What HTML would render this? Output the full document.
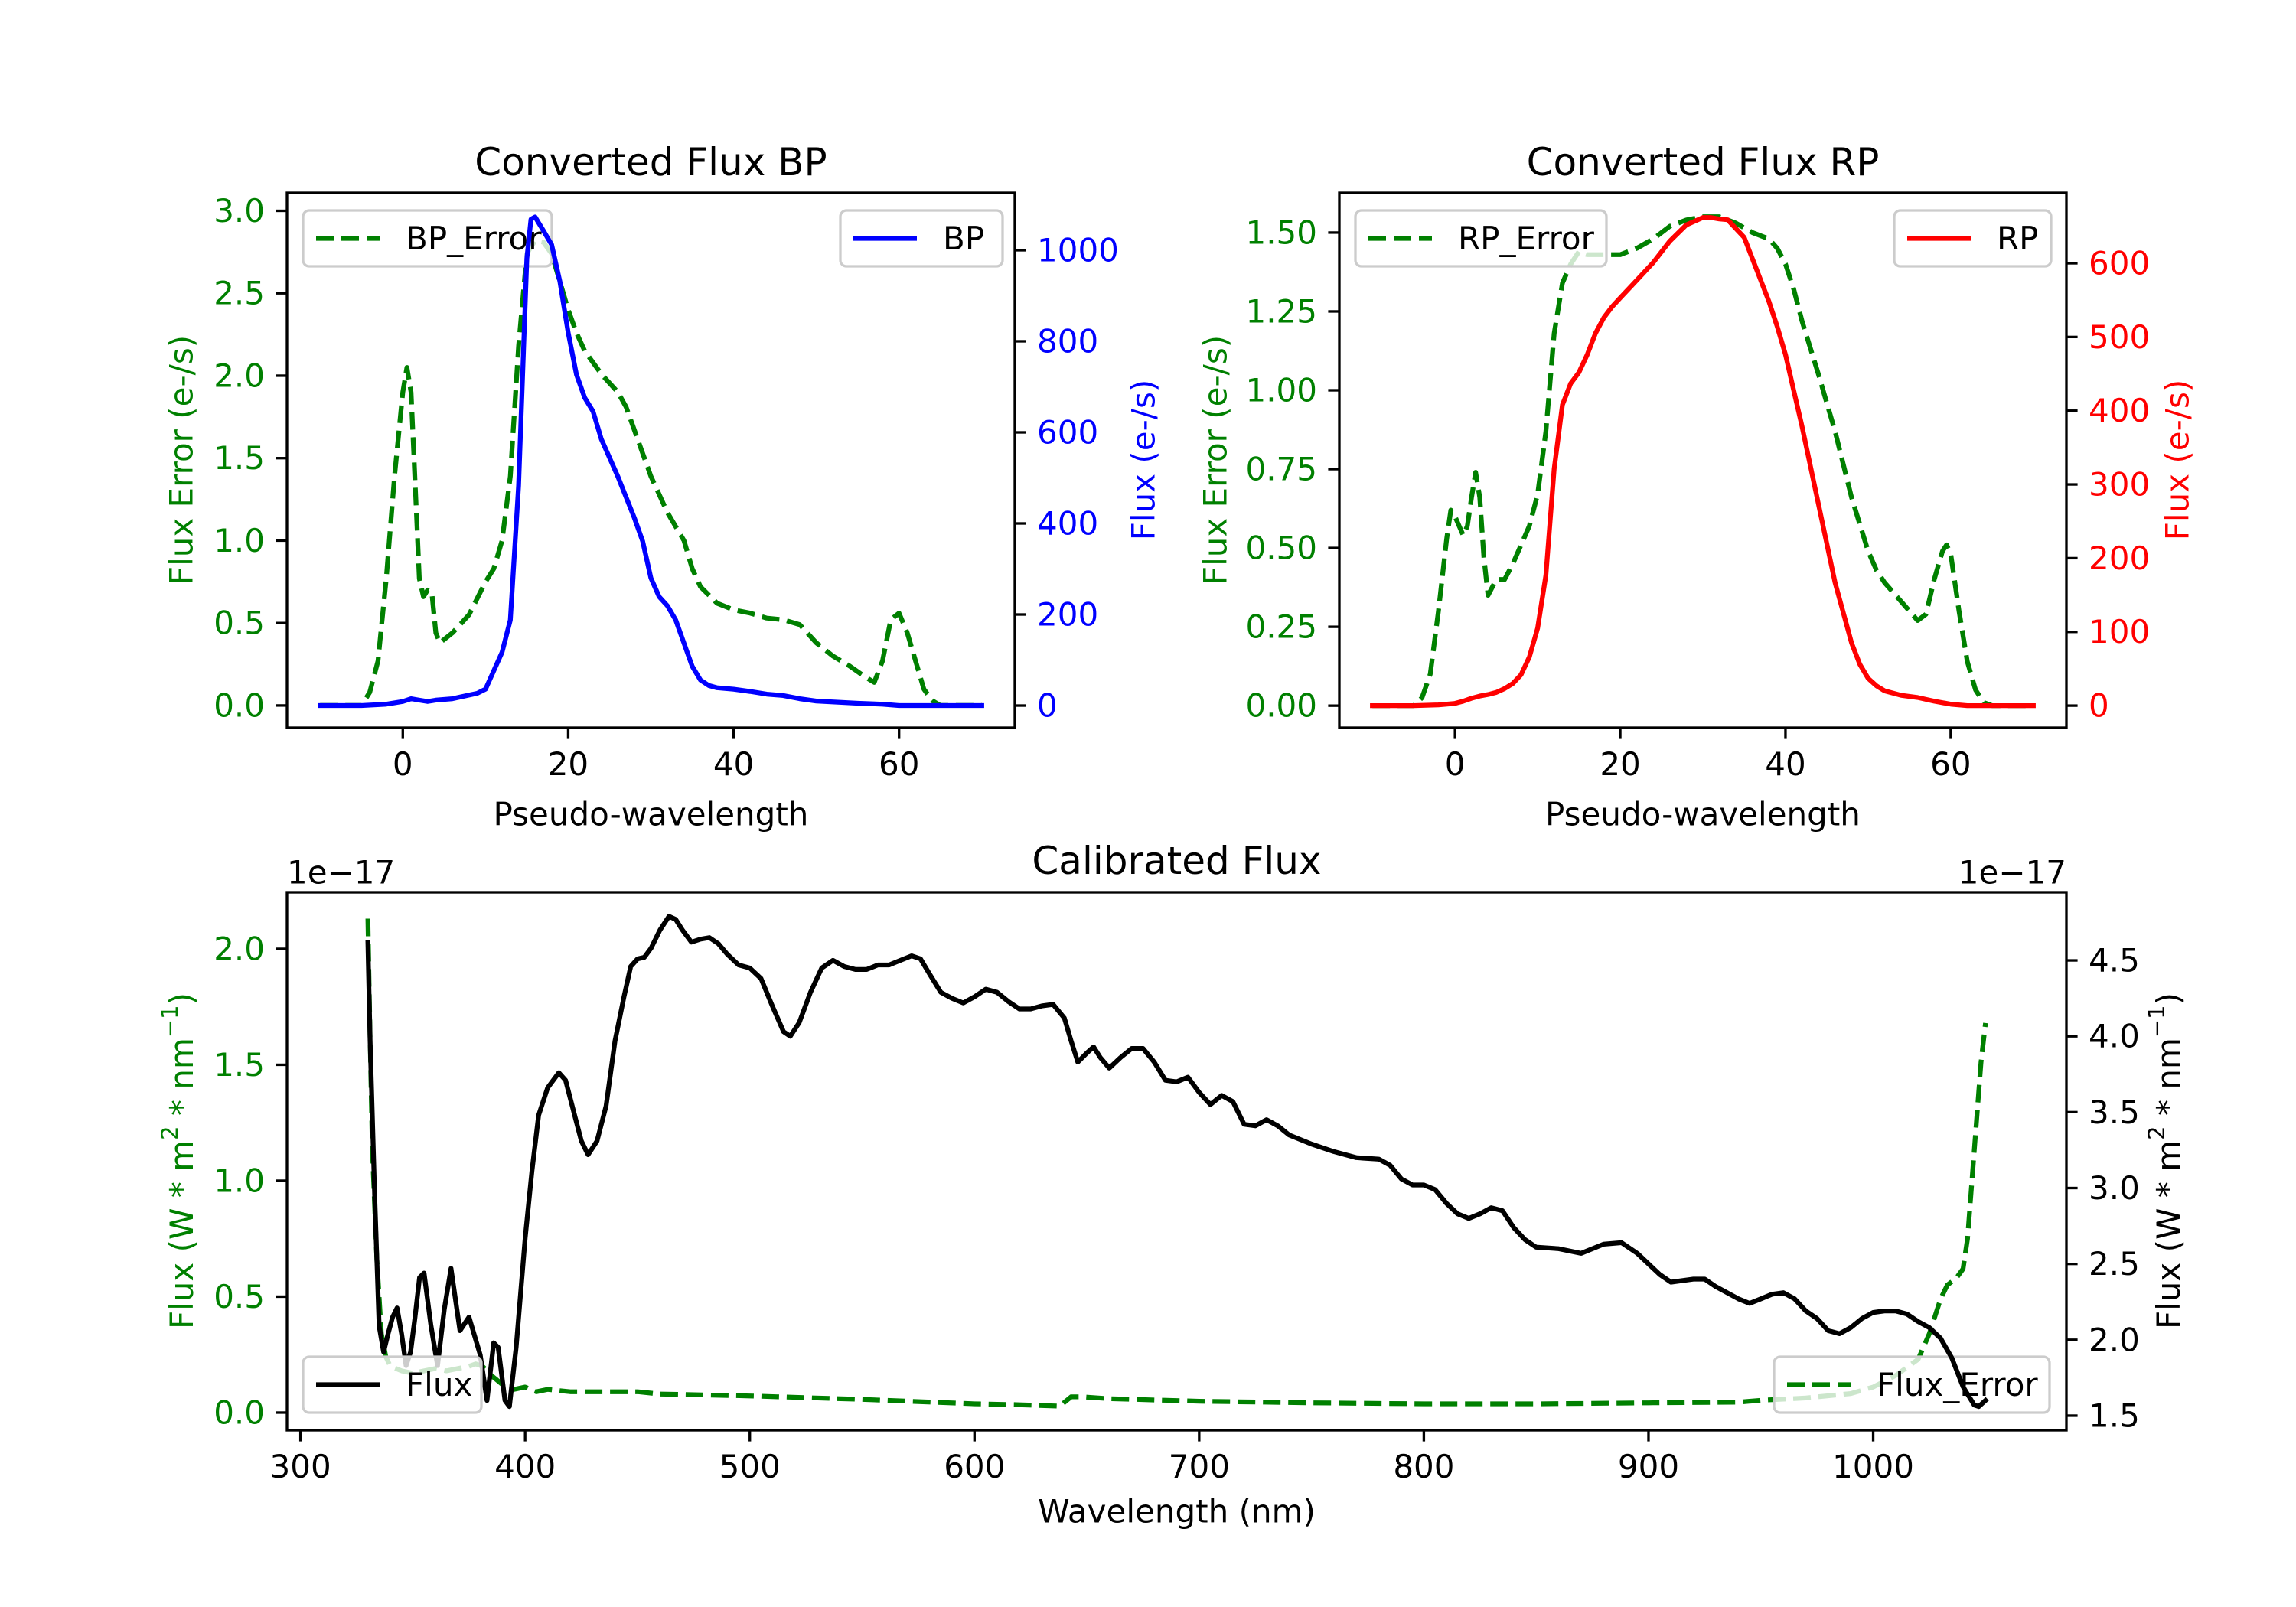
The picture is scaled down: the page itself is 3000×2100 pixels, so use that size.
<!DOCTYPE html>
<html><head><meta charset="utf-8"><style>
html,body{margin:0;padding:0;background:#fff;}
svg{display:block;font-family:"DejaVu Sans","Liberation Sans",sans-serif;}
</style></head><body>
<svg id="fig" xmlns="http://www.w3.org/2000/svg" width="3000" height="2100" viewBox="0 0 3000 2100">
<rect width="3000" height="2100" fill="#fff"/>
</svg>
<script>
// ---- BP panel data ----
const bpX = [-10,-5,-2,0,1,2,3,4,6,8,9,10,12,13,14,15,15.5,16,17,18,19,20,21,22,23,24,26,28,29,30,31,32,33,34,35,36,37,38,40,42,44,46,48,50,55,58,60,65,70];
const bpFlux = [0,0,3,9,15,12,9,12,15,23,27,36,117,188,483,982,1068,1073,1043,1012,931,819,727,676,646,585,503,412,361,280,239,219,188,137,86,56,44,39,36,31,25,22,15,10,5,3,0,0,0];
const bpErrX = [-10,-5,-4,-3,-2,-1,0,0.5,1,1.5,2,2.5,3,3.5,4,4.5,6,8,10,11,12,13,14,15,16,17,18,19,20,21,22,24,26,27,28,30,32,34,35,36,38,40,42,44,46,48,50,52,54,56,57,58,59,60,61,62,63,64,65,70];
const bpErr = [0,0,0.08,0.27,0.77,1.39,1.90,2.05,1.90,1.34,0.77,0.66,0.70,0.69,0.44,0.38,0.44,0.55,0.75,0.83,1.0,1.39,2.18,2.74,2.82,2.81,2.74,2.57,2.40,2.26,2.15,2.01,1.90,1.81,1.67,1.39,1.17,1.0,0.83,0.72,0.62,0.58,0.56,0.53,0.52,0.49,0.38,0.30,0.24,0.17,0.14,0.27,0.52,0.56,0.44,0.27,0.10,0.03,0,0];
// ---- RP panel data ----
const rpX = [-10,-5,-2,0,1,2,3,4,5,6,7,8,9,10,11,12,13,14,15,16,17,18,19,20,22,24,26,28,30,31,32,33,34,35,36,38,39,40,41,42,44,46,48,49,50,51,52,54,56,58,60,62,70];
const rpFlux = [0,0,1,3,6,10,13,15,18,23,30,42,66,105,177,321,408,437,452,476,505,526,541,553,577,601,630,652,662,662,660,659,647,635,606,548,514,476,427,379,273,167,85,56,37,27,20,14,11,6,2,0,0];
const rpErrX = [-10,-5,-4,-3,-2,-1,-0.5,0,0.5,1,1.5,2,2.5,3,3.5,4,5,6,7,8,9,10,11,12,13,14,15,16,18,20,22,24,26,28,30,32,34,36,38,39,40,41,42,44,46,48,50,51,52,54,55,56,57,58,59,59.5,60,61,62,63,64,65,70];
const rpErr = [0,0,0.025,0.10,0.30,0.53,0.62,0.60,0.57,0.54,0.57,0.66,0.74,0.66,0.47,0.35,0.40,0.40,0.45,0.51,0.57,0.67,0.87,1.18,1.34,1.40,1.44,1.43,1.43,1.43,1.45,1.48,1.52,1.54,1.55,1.55,1.53,1.50,1.48,1.45,1.40,1.32,1.22,1.05,0.87,0.66,0.49,0.43,0.39,0.33,0.30,0.27,0.29,0.40,0.49,0.51,0.48,0.30,0.14,0.05,0.01,0,0];
// ---- Calibrated flux data (units 1e-17) ----
const calWl = [330,331,333,335,337,339,341,343,345,347,349,351,353,355,358,361,364,367,371,375,377,380,383,386,388,391,393,396,400,403,406,410,415,418,422,425,428,432,436,440,444,447,450,453,456,460,464,467,470,474,478,482,486,490,495,500,505,510,515,518,522,527,532,537,542,547,552,557,562,567,572,576,580,585,590,595,600,605,610,615,620,625,630,635,640,643,646,650,653,656,660,665,670,675,680,685,690,695,700,705,710,715,720,725,730,735,740,750,760,770,780,785,790,795,800,805,810,815,820,825,830,835,840,845,850,860,870,880,888,895,900,905,910,920,925,930,940,945,950,955,960,965,970,975,980,985,990,995,1000,1005,1010,1015,1020,1025,1030,1035,1040,1045,1047,1050];
const calFlux = [4.62,3.97,2.96,2.09,1.92,2.04,2.15,2.21,2.04,1.83,1.92,2.15,2.41,2.44,2.10,1.83,2.20,2.47,2.06,2.15,2.05,1.90,1.60,1.98,1.95,1.60,1.56,1.95,2.67,3.11,3.48,3.66,3.76,3.71,3.48,3.31,3.22,3.31,3.54,3.97,4.26,4.46,4.51,4.52,4.58,4.70,4.79,4.77,4.70,4.62,4.64,4.65,4.61,4.54,4.47,4.45,4.38,4.20,4.03,4.00,4.09,4.29,4.45,4.50,4.46,4.44,4.44,4.47,4.47,4.50,4.53,4.51,4.41,4.29,4.25,4.22,4.26,4.31,4.29,4.23,4.18,4.18,4.20,4.21,4.12,3.97,3.83,3.89,3.93,3.86,3.79,3.86,3.92,3.92,3.83,3.71,3.70,3.73,3.63,3.55,3.61,3.57,3.42,3.41,3.45,3.41,3.35,3.29,3.24,3.20,3.19,3.15,3.06,3.02,3.02,2.99,2.90,2.83,2.80,2.83,2.87,2.85,2.74,2.66,2.61,2.60,2.57,2.63,2.64,2.57,2.50,2.43,2.38,2.40,2.40,2.35,2.27,2.24,2.27,2.30,2.31,2.27,2.19,2.14,2.06,2.04,2.08,2.14,2.18,2.19,2.19,2.17,2.12,2.08,2.01,1.88,1.69,1.57,1.56,1.60];
const calErrWl = [330,331,332,334,336,338,340,345,350,355,360,365,370,375,378,381,385,390,395,400,405,410,420,430,440,450,460,480,500,550,600,620,638,643,648,660,700,750,800,850,900,940,950,970,990,1000,1010,1020,1025,1030,1033,1037,1040,1042,1045,1048,1050];
const calErr = [2.13,1.61,1.13,0.66,0.34,0.24,0.20,0.18,0.17,0.18,0.19,0.18,0.19,0.20,0.21,0.20,0.16,0.12,0.10,0.11,0.09,0.10,0.09,0.09,0.09,0.09,0.08,0.076,0.072,0.057,0.038,0.034,0.028,0.068,0.068,0.06,0.049,0.042,0.038,0.038,0.042,0.045,0.053,0.063,0.082,0.11,0.16,0.23,0.34,0.49,0.55,0.58,0.62,0.75,1.13,1.51,1.68];
// ---- tick labels ----
const xTicksTop = [0,20,40,60];
const bpErrTicks = ["0.0","0.5","1.0","1.5","2.0","2.5","3.0"];
const bpFluxTicks = [0,200,400,600,800,1000];
const rpErrTicks = ["0.00","0.25","0.50","0.75","1.00","1.25","1.50"];
const rpFluxTicks = [0,100,200,300,400,500,600];
const calXTicks = [300,400,500,600,700,800,900,1000];
const calErrTicks = ["0.0","0.5","1.0","1.5","2.0"];
const calFluxTicks = ["1.5","2.0","2.5","3.0","3.5","4.0","4.5"];

const NS = "http://www.w3.org/2000/svg";
const svg = document.getElementById('fig');
function el(tag, attrs, parent, text){
  const e = document.createElementNS(NS, tag);
  for (const k in attrs) e.setAttribute(k, attrs[k]);
  if (text !== undefined) e.textContent = text;
  (parent || svg).appendChild(e);
  return e;
}
function scale(d0,d1,r0,r1){ return v => r0 + (v-d0)/(d1-d0)*(r1-r0); }
const GREEN="#008000", TFS=42, DASH="23 10";

function line(xs, ys, sx, sy, color, dashed, name){
  const pts = xs.map((x,i)=> sx(x).toFixed(1)+","+sy(ys[i]).toFixed(1)).join(" ");
  const p = el('polyline', {points:pts, fill:'none', stroke:color, 'stroke-width':6.25, 'stroke-linejoin':'round', 'stroke-linecap': dashed?'butt':'square'});
  if (dashed) p.setAttribute('stroke-dasharray', DASH);
  
  
}
function legend(x0,y0,x1,y1,color,dashed,label,name){
  const g = el('g', {});
  
  
  el('rect', {x:x0,y:y0,width:x1-x0,height:y1-y0,rx:8,fill:'rgba(255,255,255,0.8)',stroke:'#cccccc','stroke-width':3.3}, g);
  const cy=(y0+y1)/2;
  const l = el('line', {x1:x0+17,y1:cy,x2:x0+100,y2:cy,stroke:color,'stroke-width':6.25}, g);
  if (dashed) l.setAttribute('stroke-dasharray', DASH);
  el('text', {x:x0+134,y:cy,'font-size':TFS,'dominant-baseline':'central',fill:'#000'}, g, label);
}
function frame(L,T,R,B,name){
  const r = el('rect', {x:L,y:T,width:R-L,height:B-T,fill:'none',stroke:'#000','stroke-width':3.33});
  
  
}
function xTicks(vals, sx, B, labels){
  vals.forEach((v,i)=>{
    const x = sx(v);
    el('line',{x1:x,y1:B,x2:x,y2:B+14.6,stroke:'#000','stroke-width':3.33});
    const t = el('text',{x:x,y:B+31,'font-size':TFS,'text-anchor':'middle','dominant-baseline':'hanging',fill:'#000'},svg, labels?labels[i]:String(v));
    
    
  });
}
function yTicks(labels, sy, X, side, color){
  labels.forEach(lab=>{
    const y = sy(parseFloat(lab));
    const dx = side==='left' ? -14.6 : 14.6;
    el('line',{x1:X,y1:y,x2:X+dx,y2:y,stroke:'#000','stroke-width':3.33});
    const t = el('text',{x: side==='left'? X-29 : X+29, y:y,'font-size':TFS,'text-anchor': side==='left'?'end':'start','dominant-baseline':'central',fill:color},svg,String(lab));
    
    
  });
}
function textAt(x,y,s,size,color,rot,name){
  const t = el('text',{x:x,y:y,'font-size':size,'text-anchor':'middle','dominant-baseline':'central',fill:color},svg,s);
  if (rot) t.setAttribute('transform','rotate(-90 '+x+' '+y+')');
  
  
  return t;
}

// ===== BP panel =====
(function(){
  const L=375,R=1326,T=252,B=951;
  const sx = scale(-14,74,L,R);
  const sy1 = scale(-0.135,3.109,B,T);
  const sy2 = scale(-48.7,1126,B,T);
  line(bpErrX,bpErr,sx,sy1,GREEN,true,'bp-error-line');
  legend(396,275,721,348,GREEN,true,'BP_Error','legend-bp-error');
  line(bpX,bpFlux,sx,sy2,'#0000ff',false,'bp-flux-line');
  legend(1098,275,1310,348,'#0000ff',false,'BP','legend-bp');
  frame(L,T,R,B,'bp-axes-frame');
  xTicks(xTicksTop,sx,B);
  yTicks(bpErrTicks,sy1,L,'left',GREEN);
  yTicks(bpFluxTicks.map(String),sy2,R,'right','#0000ff');
  textAt((L+R)/2,212,'Converted Flux BP',50,'#000',false,'bp-title');
  textAt((L+R)/2,1064,'Pseudo-wavelength',42,'#000',false,'bp-x-axis-title');
  textAt(237,601,'Flux Error (e-/s)',42,GREEN,true,'bp-left-y-axis-title');
  textAt(1494,601,'Flux (e-/s)',42,'#0000ff',true,'bp-right-y-axis-title');
})();

// ===== RP panel =====
(function(){
  const L=1750,R=2700,T=252,B=951;
  const sx = scale(-14,74,L,R);
  const sy1 = scale(-0.070,1.626,B,T);
  const sy2 = scale(-30,695.5,B,T);
  line(rpErrX,rpErr,sx,sy1,GREEN,true,'rp-error-line');
  legend(1771,275,2099,348,GREEN,true,'RP_Error','legend-rp-error');
  line(rpX,rpFlux,sx,sy2,'#ff0000',false,'rp-flux-line');
  legend(2475,275,2680,348,'#ff0000',false,'RP','legend-rp');
  frame(L,T,R,B,'rp-axes-frame');
  xTicks(xTicksTop,sx,B);
  yTicks(rpErrTicks,sy1,L,'left',GREEN);
  yTicks(rpFluxTicks.map(String),sy2,R,'right','#ff0000');
  textAt((L+R)/2,212,'Converted Flux RP',50,'#000',false,'rp-title');
  textAt((L+R)/2,1064,'Pseudo-wavelength',42,'#000',false,'rp-x-axis-title');
  textAt(1588,601,'Flux Error (e-/s)',42,GREEN,true,'rp-left-y-axis-title');
  textAt(2845,601,'Flux (e-/s)',42,'#ff0000',true,'rp-right-y-axis-title');
})();

// ===== Calibrated panel =====
(function(){
  const L=375,R=2700,T=1166,B=1869;
  const sx = scale(294,1086,L,R);
  const sy1 = scale(-0.076,2.244,B,T);
  const sy2 = scale(1.404,4.949,B,T);
  line(calErrWl,calErr,sx,sy1,GREEN,true,'flux-error-line');
  legend(2318,1773,2678,1846,GREEN,true,'Flux_Error','legend-flux-error');
  line(calWl,calFlux,sx,sy2,'#000',false,'flux-line');
  legend(396,1773,629,1846,'#000',false,'Flux','legend-flux');
  frame(L,T,R,B,'calibrated-axes-frame');
  xTicks(calXTicks,sx,B);
  yTicks(calErrTicks,sy1,L,'left',GREEN);
  yTicks(calFluxTicks,sy2,R,'right','#000');
  textAt((L+R)/2,1125,'Calibrated Flux',50,'#000',false,'calibrated-title');
  textAt((L+R)/2,1975,'Wavelength (nm)',42,'#000',false,'calibrated-x-axis-title');
  const o1 = el('text',{x:375,y:1140,'font-size':42,'dominant-baseline':'central',fill:'#000'},svg,'1e\u221217');
  
  
  const o2 = el('text',{x:2700,y:1140,'font-size':42,'text-anchor':'end','dominant-baseline':'central',fill:'#000'},svg,'1e\u221217');
  
  
  function unitLabel(x,color,name){
    const t = el('text',{x:x,y:1517,'font-size':42,'text-anchor':'middle','dominant-baseline':'central',fill:color,transform:'rotate(-90 '+x+' 1517)'});
    
    
    el('tspan',{},t,'Flux (W * m');
    el('tspan',{'font-size':29,dy:-15},t,'2');
    el('tspan',{dy:15},t,' * nm');
    el('tspan',{'font-size':29,dy:-15},t,'\u22121');
    el('tspan',{dy:15},t,')');
  }
  unitLabel(237,GREEN,'calibrated-left-y-axis-title');
  unitLabel(2833,'#000','calibrated-right-y-axis-title');
})();
</script>
</body></html>
